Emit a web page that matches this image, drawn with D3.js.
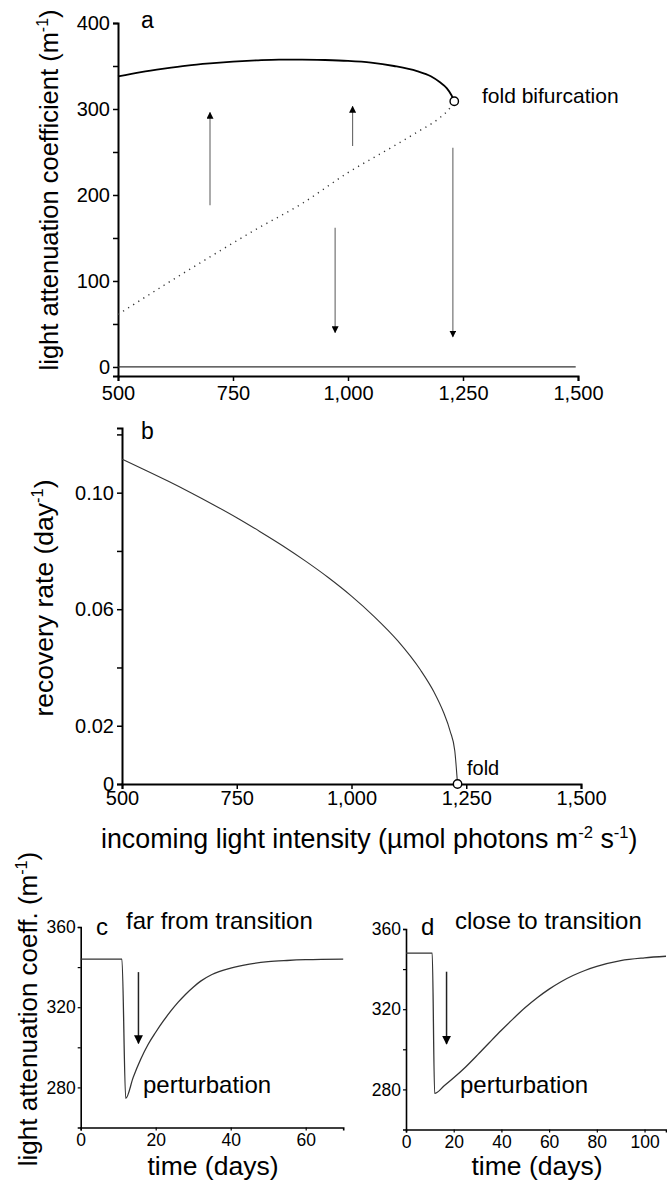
<!DOCTYPE html>
<html>
<head>
<meta charset="utf-8">
<script src="https://cdn.jsdelivr.net/npm/d3@7"></script>
<style>
  body { margin: 0; background: #fff; }
  svg { display: block; font-family: "Liberation Sans", Arial, sans-serif; }
  .axis text { font-family: "Liberation Sans", Arial, sans-serif; fill: #000; }
</style>
</head>
<body>
<div id="chart"></div>
<script>
// panel a: equilibrium light attenuation vs incoming light
const lightTicks = [500, 750, 1000, 1250, 1500];
const coefTicks = [0, 100, 200, 300, 400];
const coefMinor = [50, 150, 250, 350];
const upperLight = [500, 550, 600, 650, 700, 750, 800, 850, 900, 950, 1000, 1050, 1100, 1150, 1180, 1200, 1215, 1225, 1231];
const upperCoef  = [338, 343, 347, 350.5, 353, 355, 356.5, 357.5, 357.5, 357, 356, 354, 350, 344, 338, 331, 324, 316, 309];
const lowerLight = [500, 600, 700, 800, 900, 1000, 1100, 1150, 1200, 1220, 1231];
const lowerCoef  = [61, 95, 128, 160, 190, 226, 257, 273, 290, 300, 309];
const zeroLight = [500, 1495];
const zeroCoef = [0, 0];
const foldLight = 1231, foldCoef = 309;
const arrowLight = [700, 1010, 972, 1228];
const arrowFrom  = [188, 257, 162, 255];
const arrowTo    = [296, 303, 40, 35];

// panel b: recovery rate
const rateTicks = [0, 0.02, 0.06, 0.10];
const rateMinor = [0.04, 0.08, 0.12];
const rateLight = [500, 550, 600, 650, 700, 750, 800, 850, 900, 950, 1000, 1050, 1100, 1150, 1180, 1200, 1215, 1225, 1231];
const rateValue = [0.1115, 0.1078, 0.104, 0.1, 0.0958, 0.0914, 0.0867, 0.0818, 0.0765, 0.0708, 0.0645, 0.0574, 0.0493, 0.0392, 0.0315, 0.0248, 0.0181, 0.0114, 0];

// panels c, d: response to a perturbation
const timeYTicks = [280, 320, 360];
const timeYMinor = [300, 340];
const cDayTicks = [0, 20, 40, 60];
const dDayTicks = [0, 20, 40, 60, 80, 100];
const cDays = [0, 11, 12, 14, 16, 18, 20, 22, 24, 26, 28, 30, 32, 35, 40, 45, 50, 55, 60, 70];
const cCoef = [344, 344, 274.5, 285, 294, 301.5, 307.5, 313, 318, 322.5, 326.5, 330, 333, 336.3, 339.5, 341.5, 342.7, 343.3, 343.7, 344];
const dDays = [0, 11, 12, 16, 20, 25, 30, 35, 40, 45, 50, 55, 60, 65, 70, 75, 80, 90, 100, 109];
const dCoef = [348, 348, 278, 281.8, 285.8, 291.2, 297.2, 303.4, 309.5, 315.3, 320.8, 325.7, 330, 333.7, 336.8, 339.3, 341.3, 344.2, 345.6, 346.4];
const cArrow = [15.4, 337.5, 302];
const dArrow = [17, 338.7, 302.7];

const W = 667, H = 1187;
const font = 'Liberation Sans, Arial, sans-serif';

const svg = d3.select("#chart").append("svg")
  .attr("width", W).attr("height", H);

const defs = svg.append("defs");
defs.append("marker")
  .attr("id", "head")
  .attr("viewBox", "0 0 10 10")
  .attr("refX", 9).attr("refY", 5)
  .attr("markerWidth", 7).attr("markerHeight", 7)
  .attr("markerUnits", "userSpaceOnUse")
  .attr("orient", "auto")
  .append("path").attr("d", "M0,0 L10,5 L0,10 Z").attr("fill", "#000");
defs.append("marker")
  .attr("id", "headBig")
  .attr("viewBox", "0 0 10 10")
  .attr("refX", 9).attr("refY", 5)
  .attr("markerWidth", 9).attr("markerHeight", 9)
  .attr("markerUnits", "userSpaceOnUse")
  .attr("orient", "auto")
  .append("path").attr("d", "M0,0 L10,5 L0,10 Z").attr("fill", "#000");

function drawAxes(x, y, o) {
  const gx = svg.append("g").attr("class", "axis")
    .attr("transform", `translate(0,${y.range()[0]})`)
    .call(d3.axisBottom(x).tickValues(o.xTicks).tickSizeOuter(0)
      .tickSize(o.tick).tickPadding(o.xPad).tickFormat(d3.format(",")));
  gx.select(".domain").attr("stroke-width", o.axisW);
  gx.selectAll(".tick line").attr("stroke-width", o.tickW);
  gx.selectAll("text").attr("font-size", o.tickFont);

  const gy = svg.append("g").attr("class", "axis")
    .attr("transform", `translate(${x.range()[0]},0)`)
    .call(d3.axisLeft(y).tickValues(o.yTicks).tickSizeOuter(0)
      .tickSize(o.tick).tickPadding(o.yPad).tickFormat(o.yFmt));
  gy.select(".domain").attr("stroke-width", o.axisW);
  gy.selectAll(".tick line").attr("stroke-width", o.tickW);
  gy.selectAll("text").attr("font-size", o.tickFont);

  const gm = svg.append("g").attr("class", "axis")
    .attr("transform", `translate(${x.range()[0]},0)`)
    .call(d3.axisLeft(y).tickValues(o.yMinor).tickSize(o.tick).tickFormat(""));
  gm.select(".domain").remove();
  gm.selectAll(".tick line").attr("stroke-width", o.tickW);
}

// parts: plain strings, or ["sup", text] for a superscript
function label(x, y, parts, size, rotate, anchor) {
  const t = svg.append("text")
    .attr("transform", `translate(${x},${y})` + (rotate ? " rotate(-90)" : ""))
    .attr("text-anchor", anchor || "middle")
    .attr("font-size", size).attr("font-family", font).attr("fill", "#000");
  let shift = 0;
  parts.forEach(p => {
    if (Array.isArray(p)) {
      t.append("tspan").attr("dy", -size * 0.38 - shift).attr("font-size", size * 0.62).text(p[1]);
      shift = -size * 0.38;
    } else {
      t.append("tspan").attr("dy", -shift).text(p);
      shift = 0;
    }
  });
  return t;
}

// ---------- panel a ----------
const xa = d3.scaleLinear().domain([500, 1500]).range([118, 578]);
const ya = d3.scaleLinear().domain([-10.5, 400]).range([376, 23]);
drawAxes(xa, ya, { xTicks: lightTicks, yTicks: coefTicks, yMinor: coefMinor, tick: 5,
  xPad: 5, yPad: 3, axisW: 2, tickW: 1.5, tickFont: 20, yFmt: d3.format("d") });

const lineA = d3.line().x(d => xa(d[0])).y(d => ya(d[1])).curve(d3.curveMonotoneX);
svg.append("path").datum(zeroLight.map((v, i) => [v, zeroCoef[i]]))
  .attr("d", lineA).attr("fill", "none").attr("stroke", "#333").attr("stroke-width", 1.3);
svg.append("path").datum(upperLight.map((v, i) => [v, upperCoef[i]]))
  .attr("d", lineA).attr("fill", "none").attr("stroke", "#000").attr("stroke-width", 1.8);
svg.append("path").datum(lowerLight.map((v, i) => [v, lowerCoef[i]]))
  .attr("d", lineA).attr("fill", "none").attr("stroke", "#333").attr("stroke-width", 1.4)
  .attr("stroke-dasharray", "1.2,4.8");

arrowLight.forEach((v, i) => {
  svg.append("line")
    .attr("x1", xa(v)).attr("x2", xa(v))
    .attr("y1", ya(arrowFrom[i])).attr("y2", ya(arrowTo[i]))
    .attr("stroke", "#666").attr("stroke-width", 1.1)
    .attr("marker-end", "url(#head)");
});

svg.append("circle").attr("cx", xa(foldLight)).attr("cy", ya(foldCoef)).attr("r", 4.2)
  .attr("fill", "#fff").attr("stroke", "#000").attr("stroke-width", 1.4);
label(482, 103, ["fold bifurcation"], 21, false, "start");
label(141, 28, ["a"], 23, false, "start");
label(58, 190, ["light attenuation coefficient (m", ["sup", "-1"], ")"], 25.5, true);

// ---------- panel b ----------
const xb = d3.scaleLinear().domain([500, 1500]).range([122, 581]);
const yb = d3.scaleLinear().domain([0, 0.1222]).range([784, 428]);
drawAxes(xb, yb, { xTicks: lightTicks, yTicks: rateTicks, yMinor: rateMinor, tick: 5,
  xPad: 2, yPad: 3, axisW: 2, tickW: 1.5, tickFont: 20,
  yFmt: d => d === 0 ? "0" : d3.format(".2f")(d) });

const lineB = d3.line().x(d => xb(d[0])).y(d => yb(d[1])).curve(d3.curveMonotoneX);
svg.append("path").datum(rateLight.map((v, i) => [v, rateValue[i]]))
  .attr("d", lineB).attr("fill", "none").attr("stroke", "#333").attr("stroke-width", 1.1);
svg.append("circle").attr("cx", xb(foldLight)).attr("cy", yb(0)).attr("r", 4.2)
  .attr("fill", "#fff").attr("stroke", "#000").attr("stroke-width", 1.4);
label(467, 775, ["fold"], 20, false, "start");
label(141, 439, ["b"], 23, false, "start");
label(53, 598, ["recovery rate (day", ["sup", "-1"], ")"], 26.5, true);
label(101, 848, ["incoming light intensity (\u00b5mol photons m", ["sup", "-2"], " s", ["sup", "-1"], ")"], 26.8, false, "start");

// ---------- panels c and d ----------
function timePanel(x, y, days, coef, ticks, arrow, letter, title, lx, tx) {
  drawAxes(x, y, { xTicks: ticks, yTicks: timeYTicks, yMinor: timeYMinor, tick: 3,
    xPad: 3, yPad: 2, axisW: 1.6, tickW: 1.2, tickFont: 17.5, yFmt: d3.format("d") });
  const line = d3.line().x(d => x(d[0])).y(d => y(d[1])).curve(d3.curveMonotoneX);
  svg.append("path").datum(days.map((v, i) => [v, coef[i]]))
    .attr("d", line).attr("fill", "none").attr("stroke", "#333").attr("stroke-width", 1.3);
  svg.append("line")
    .attr("x1", x(arrow[0])).attr("x2", x(arrow[0]))
    .attr("y1", y(arrow[1])).attr("y2", y(arrow[2]))
    .attr("stroke", "#222").attr("stroke-width", 1.5)
    .attr("marker-end", "url(#headBig)");
  label(lx, 935, [letter], 24, false, "start");
  label(tx, 929, [title], 24, false, "start");
  label(tx + (letter === "c" ? 17 : 5), 1093, ["perturbation"], 24, false, "start");
  label((x.range()[0] + x.range()[1]) / 2 + 1, 1175, ["time (days)"], 26.5, false);
}

const xc = d3.scaleLinear().domain([0, 70]).range([80.7, 343.2]);
const yc = d3.scaleLinear().domain([260, 360]).range([1127.5, 927]);
timePanel(xc, yc, cDays, cCoef, cDayTicks, cArrow, "c", "far from transition", 96, 126);

const xd = d3.scaleLinear().domain([0, 109]).range([406, 666]);
const yd = d3.scaleLinear().domain([260, 360]).range([1129.5, 929]);
timePanel(xd, yd, dDays, dCoef, dDayTicks, dArrow, "d", "close to transition", 421, 455);

label(37, 1009, ["light attenuation coeff. (m", ["sup", "-1"], ")"], 26, true);
</script>
</body>
</html>
